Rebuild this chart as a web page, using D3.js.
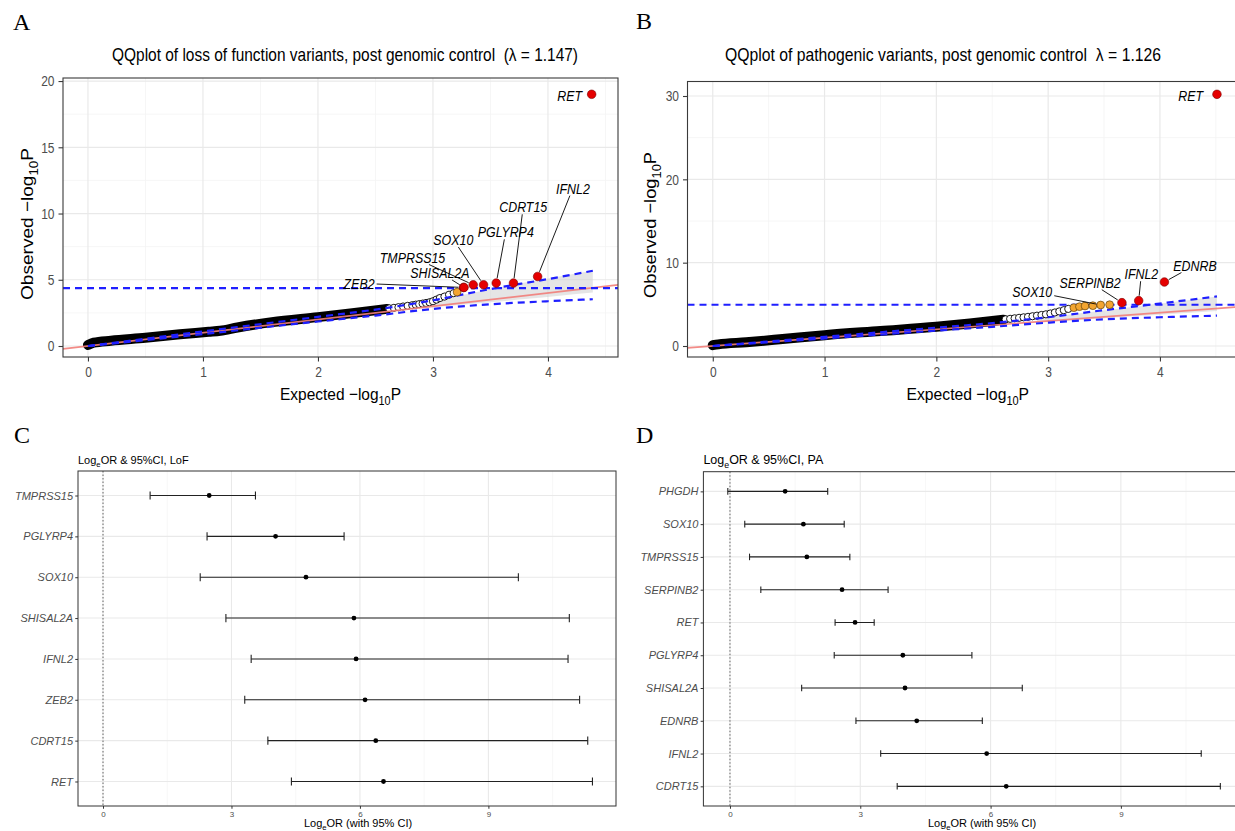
<!DOCTYPE html>
<html>
<head>
<meta charset="utf-8">
<script src="https://cdn.jsdelivr.net/npm/d3@7"></script>
<style>
  body { margin: 0; background: #fff; }
  svg { display: block; }
  text { white-space: pre; }
</style>
</head>
<body>
<svg id="fig" width="1235" height="831"></svg>
<script>
// ---------------- data ----------------
// Panel A: QQ plot, loss-of-function variants
const qqTicksX = [0, 1, 2, 3, 4];
const qqMinorX = [0.5, 1.5, 2.5, 3.5, 4.5];
const lofTicksY = [0, 5, 10, 15, 20];
const lofMinorY = [2.5, 7.5, 12.5, 17.5];

// dense body of the QQ cloud (expected, observed)
const lofBandExp = [0, 0.05, 0.2, 0.5, 0.8, 1.05, 1.15, 1.3, 1.6, 2.0, 2.3, 2.6];
const lofBandObs = [0.08, 0.25, 0.4, 0.62, 0.88, 1.07, 1.15, 1.4, 1.8, 2.18, 2.48, 2.8];
// individually visible tail points
const lofTailExp = [2.62, 2.66, 2.70, 2.74, 2.78, 2.82, 2.85, 2.88, 2.91, 2.94, 2.97, 3.00, 3.03, 3.06, 3.10, 3.14, 3.18];
const lofTailObs = [2.84, 2.88, 2.93, 2.98, 3.03, 3.08, 3.12, 3.16, 3.20, 3.25, 3.30, 3.38, 3.50, 3.62, 3.73, 3.87, 3.99];
const lofSuggExp = [3.21];
const lofSuggObs = [4.07];
const lofSigGenes = ["ZEB2", "SHISAL2A", "TMPRSS15", "SOX10", "PGLYRP4", "CDRT15", "IFNL2", "RET"];
const lofSigExp = [3.265, 3.27, 3.35, 3.44, 3.55, 3.70, 3.91, 4.38];
const lofSigObs = [4.42, 4.42, 4.62, 4.62, 4.75, 4.75, 5.25, 19.0];
// label centres (expected, observed) and whether a leader segment is drawn
const lofLabelExp = [2.358, 3.061, 2.822, 3.177, 3.633, 3.785, 4.217, 4.188];
const lofLabelObs = [4.73, 5.55, 6.72, 8.04, 8.62, 10.51, 11.92, 18.88];
const lofLabelSeg = [true, true, true, true, true, true, true, false];
// confidence envelope
const lofCiExp = [0, 1, 2, 2.5, 3, 3.5, 4, 4.39];
const lofCiUp = [0, 1.1, 2.2, 2.75, 3.45, 4.3, 5.05, 5.68];
const lofCiLo = [0, 0.9, 1.85, 2.3, 2.8, 3.15, 3.38, 3.53];
const lofRibExp = [2.9, 3.2, 3.5, 3.8, 4.1, 4.39];
const lofRibLo = [2.85, 3.08, 3.3, 3.55, 3.8, 4.04];
const lofRibUp = [3.3, 3.75, 4.3, 4.8, 5.25, 5.68];
const lofThreshold = 4.37;

// Panel B: QQ plot, pathogenic variants
const paTicksY = [0, 10, 20, 30];
const paMinorY = [5, 15, 25];
const paBandExp = [0, 0.05, 0.3, 0.6, 1.0, 1.5, 2.0, 2.3, 2.6];
const paBandObs = [0.1, 0.2, 0.45, 0.8, 1.3, 1.8, 2.3, 2.7, 3.15];
const paTailExp = [2.62, 2.66, 2.70, 2.74, 2.78, 2.82, 2.86, 2.90, 2.94, 2.98, 3.02, 3.06, 3.10, 3.14, 3.18];
const paTailObs = [3.20, 3.26, 3.32, 3.38, 3.44, 3.50, 3.57, 3.64, 3.72, 3.80, 3.90, 4.02, 4.15, 4.30, 4.45];
const paSuggExp = [3.23, 3.28, 3.33, 3.40, 3.47, 3.55];
const paSuggObs = [4.60, 4.72, 4.80, 4.84, 4.92, 4.96];
const paSigGenes = ["SERPINB2", "IFNL2", "EDNRB", "RET"];
const paSigExp = [3.66, 3.81, 4.04, 4.51];
const paSigObs = [5.20, 5.44, 7.68, 30.2];
// labelled genes: SOX10 sits among the suggestive points
const paLabelGenes = ["SOX10", "SERPINB2", "IFNL2", "EDNRB", "RET"];
const paLabelPtExp = [3.47, 3.66, 3.81, 4.04, 4.51];
const paLabelPtObs = [4.92, 5.20, 5.44, 7.68, 30.2];
const paLabelExp = [2.858, 3.375, 3.834, 4.314, 4.275];
const paLabelObs = [6.56, 7.66, 8.68, 9.72, 30.12];
const paLabelSeg = [true, true, true, true, false];
const paCiExp = [0, 1, 2, 2.5, 3, 3.5, 4, 4.51];
const paCiUp = [0, 1.1, 2.2, 2.75, 3.45, 4.3, 5.1, 5.95];
const paCiLo = [0, 0.9, 1.85, 2.3, 2.8, 3.2, 3.45, 3.64];
const paRibExp = [2.9, 3.3, 3.7, 4.1, 4.51];
const paRibLo = [2.85, 3.15, 3.5, 3.85, 4.2];
const paRibUp = [3.3, 3.95, 4.6, 5.25, 5.95];
const paThreshold = 4.95;

// Panel C: log odds ratios, LoF
const forestTicksX = [0, 3, 6, 9];
const forestMinorX = [1.5, 4.5, 7.5, 10.5];
const lofGenes = ["TMPRSS15", "PGLYRP4", "SOX10", "SHISAL2A", "IFNL2", "ZEB2", "CDRT15", "RET"];
const lofEst  = [2.48, 4.03, 4.74, 5.86, 5.91, 6.12, 6.37, 6.55];
const lofLow  = [1.10, 2.43, 2.27, 2.87, 3.46, 3.31, 3.85, 4.40];
const lofHigh = [3.56, 5.63, 9.70, 10.89, 10.86, 11.13, 11.32, 11.43];

// Panel D: log odds ratios, pathogenic
const paGenes = ["PHGDH", "SOX10", "TMPRSS15", "SERPINB2", "RET", "PGLYRP4", "SHISAL2A", "EDNRB", "IFNL2", "CDRT15"];
const paEst  = [1.27, 1.69, 1.77, 2.58, 2.88, 3.98, 4.03, 4.30, 5.91, 6.36];
const paLow  = [-0.05, 0.34, 0.45, 0.71, 2.42, 2.40, 1.65, 2.90, 3.47, 3.85];
const paHigh = [2.25, 2.63, 2.76, 3.64, 3.32, 5.57, 6.73, 5.81, 10.85, 11.29];

// ---------------- helpers ----------------
const SANS = "'Liberation Sans', Arial, Helvetica, sans-serif";
const SERIF = "'Liberation Serif', 'Times New Roman', serif";
const svg = d3.select("#fig");

// text built from parts; {t, sub} entries become subscripts
function richText(parent, x, y, parts, o) {
  const t = parent.append("text")
    .attr("xml:space", "preserve")
    .attr("font-family", o.family || SANS)
    .attr("font-size", o.size)
    .attr("font-style", o.italic ? "italic" : null)
    .attr("fill", o.fill || "#000");
  let prevSub = false;
  parts.forEach(p => {
    const s = t.append("tspan").text(p.t);
    if (p.sub) { s.attr("font-size", o.size * 0.7).attr("dy", o.size * 0.28); prevSub = true; }
    else if (prevSub) { s.attr("dy", -o.size * 0.28); prevSub = false; }
  });
  const nat = t.node().getComputedTextLength();
  const L = o.len || nat * (o.factor || 1);
  if (Math.abs(L - nat) > 0.1) t.attr("textLength", L).attr("lengthAdjust", "spacingAndGlyphs");
  const shift = o.anchor === "middle" ? -L / 2 : o.anchor === "end" ? -L : 0;
  if (o.rotate) {
    t.attr("transform", `translate(${x},${y}) rotate(-90)`).attr("x", shift).attr("y", 0);
  } else {
    t.attr("x", x + shift).attr("y", y);
  }
  return L;
}

// narrow the tick labels produced by a d3 axis
function condenseTicks(axisG, factor, side, offset) {
  axisG.selectAll(".tick text").each(function () {
    const n = this.getComputedTextLength();
    const L = n * factor;
    this.setAttribute("textLength", L);
    this.setAttribute("lengthAdjust", "spacingAndGlyphs");
    this.setAttribute("text-anchor", "start");
    if (side === "left") this.setAttribute("x", -offset - L);
    else this.setAttribute("x", -L / 2);
  });
}

function panelLabel(letter, x, y) {
  svg.append("text").attr("x", x).attr("y", y)
    .attr("font-family", SERIF).attr("font-size", 24).attr("fill", "#000")
    .text(letter);
}

// ---------------- QQ panel ----------------
function qqPanel(c) {
  const x = d3.scaleLinear().domain(c.xDom).range([c.box.l, c.box.r]);
  const y = d3.scaleLinear().domain(c.yDom).range([c.box.b, c.box.t]);
  const g = svg.append("g");
  const clip = "clip-" + c.id;
  g.append("clipPath").attr("id", clip).append("rect")
    .attr("x", c.box.l).attr("y", c.box.t)
    .attr("width", c.box.r - c.box.l).attr("height", c.box.b - c.box.t);
  const p = g.append("g").attr("clip-path", `url(#${clip})`);

  // grid
  p.selectAll(".gmx").data(qqMinorX).join("line")
    .attr("x1", d => x(d)).attr("x2", d => x(d)).attr("y1", c.box.t).attr("y2", c.box.b)
    .attr("stroke", "#f4f4f4").attr("stroke-width", 0.8);
  p.selectAll(".gmy").data(c.yMinor).join("line")
    .attr("y1", d => y(d)).attr("y2", d => y(d)).attr("x1", c.box.l).attr("x2", c.box.r)
    .attr("stroke", "#f4f4f4").attr("stroke-width", 0.8);
  p.selectAll(".gx").data(qqTicksX).join("line")
    .attr("x1", d => x(d)).attr("x2", d => x(d)).attr("y1", c.box.t).attr("y2", c.box.b)
    .attr("stroke", "#e9e9e9").attr("stroke-width", 1.2);
  p.selectAll(".gy").data(c.yTicks).join("line")
    .attr("y1", d => y(d)).attr("y2", d => y(d)).attr("x1", c.box.l).attr("x2", c.box.r)
    .attr("stroke", "#e9e9e9").attr("stroke-width", 1.2);

  // shaded envelope
  const rib = c.ribExp.map((e, i) => [e, c.ribLo[i], c.ribUp[i]]);
  p.append("path").datum(rib)
    .attr("d", d3.area().x(d => x(d[0])).y0(d => y(d[1])).y1(d => y(d[2])).curve(d3.curveMonotoneX))
    .attr("fill", "#cfcfcf").attr("opacity", 0.55);

  // dense body of points
  const band = c.bandExp.map((e, i) => [e, c.bandObs[i]]);
  p.append("path").datum(band)
    .attr("d", d3.line().x(d => x(d[0])).y(d => y(d[1])).curve(d3.curveMonotoneX))
    .attr("fill", "none").attr("stroke", "#000").attr("stroke-width", 10)
    .attr("stroke-linecap", "round").attr("stroke-linejoin", "round");

  // tail points
  const tail = c.tailExp.map((e, i) => [e, c.tailObs[i]]);
  p.selectAll(".tail").data(tail).join("circle")
    .attr("cx", d => x(d[0])).attr("cy", d => y(d[1])).attr("r", 3.6)
    .attr("fill", "#fff").attr("stroke", "#000").attr("stroke-width", 0.9);

  // identity line
  p.append("line")
    .attr("x1", x(c.xDom[0])).attr("y1", y(c.xDom[0]))
    .attr("x2", x(c.xDom[1])).attr("y2", y(c.xDom[1]))
    .attr("stroke", "#f27f7a").attr("stroke-width", 1.7).attr("opacity", 0.9);

  // dashed confidence bounds and significance threshold
  const dashed = { stroke: "#1f1fff", w: 2.2, dash: "7 5" };
  [c.ciUp, c.ciLo].forEach(arr => {
    const pts = c.ciExp.map((e, i) => [e, arr[i]]);
    p.append("path").datum(pts)
      .attr("d", d3.line().x(d => x(d[0])).y(d => y(d[1])).curve(d3.curveMonotoneX))
      .attr("fill", "none").attr("stroke", dashed.stroke).attr("stroke-width", dashed.w)
      .attr("stroke-dasharray", dashed.dash);
  });
  p.append("line")
    .attr("x1", c.box.l).attr("x2", c.box.r)
    .attr("y1", y(c.threshold)).attr("y2", y(c.threshold))
    .attr("stroke", dashed.stroke).attr("stroke-width", dashed.w).attr("stroke-dasharray", dashed.dash);

  // suggestive and significant points
  const sugg = c.suggExp.map((e, i) => [e, c.suggObs[i]]);
  p.selectAll(".sugg").data(sugg).join("circle")
    .attr("cx", d => x(d[0])).attr("cy", d => y(d[1])).attr("r", 3.9)
    .attr("fill", "#f3a530").attr("stroke", "#4a3000").attr("stroke-width", 0.6);
  const sig = c.sigExp.map((e, i) => [e, c.sigObs[i]]);
  p.selectAll(".sig").data(sig).join("circle")
    .attr("cx", d => x(d[0])).attr("cy", d => y(d[1])).attr("r", 4.3)
    .attr("fill", "#e50000").attr("stroke", "#7a0000").attr("stroke-width", 0.6);

  // gene labels with leader segments
  const lab = g.append("g");
  const fs = 15.5, capH = fs * 0.716;
  c.labels.forEach(l => {
    const cx = x(l.lx), cy = y(l.ly);
    const L = richText(lab, cx, cy + capH / 2, [{ t: l.gene }],
      { size: fs, italic: true, factor: 0.8, anchor: "middle" });
    if (!l.seg) return;
    const px = x(l.px), py = y(l.py);
    const dx = px - cx, dy = py - cy, dist = Math.hypot(dx, dy);
    const hw = L / 2 + 2, hh = capH / 2 + 2;
    const tb = Math.min(Math.abs(dx) > 1e-6 ? hw / Math.abs(dx) : Infinity,
                        Math.abs(dy) > 1e-6 ? hh / Math.abs(dy) : Infinity);
    const te = 1 - 5 / dist;
    if (te <= tb) return;
    lab.append("line")
      .attr("x1", cx + dx * tb).attr("y1", cy + dy * tb)
      .attr("x2", cx + dx * te).attr("y2", cy + dy * te)
      .attr("stroke", "#000").attr("stroke-width", 0.9);
  });

  // border
  g.append("rect")
    .attr("x", c.box.l).attr("y", c.box.t)
    .attr("width", c.box.r - c.box.l).attr("height", c.box.b - c.box.t)
    .attr("fill", "none").attr("stroke", "#3a3a3a").attr("stroke-width", 1.1);

  // axes
  const ax = g.append("g").attr("transform", `translate(0,${c.box.b})`)
    .call(d3.axisBottom(x).tickValues(qqTicksX).tickFormat(d3.format("d")).tickSize(4.5).tickPadding(5));
  const ay = g.append("g").attr("transform", `translate(${c.box.l},0)`)
    .call(d3.axisLeft(y).tickValues(c.yTicks).tickFormat(d3.format("d")).tickSize(4.5).tickPadding(4));
  [ax, ay].forEach(a => {
    a.select(".domain").remove();
    a.selectAll(".tick line").attr("stroke", "#3a3a3a").attr("stroke-width", 1.1);
    a.selectAll(".tick text").attr("font-family", SANS).attr("font-size", 15).attr("fill", "#4d4d4d");
  });
  condenseTicks(ax, 0.8, "bottom", 0);
  condenseTicks(ay, 0.8, "left", 8.5);

  // titles
  richText(g, c.title.x, c.title.y, [{ t: c.title.text }], { size: 19, len: c.title.len });
  richText(g, c.xTitle.x, c.xTitle.y,
    [{ t: "Expected \u2212log" }, { t: "10", sub: true }, { t: "P" }],
    { size: 17, len: c.xTitle.len, anchor: "middle" });
  richText(g, c.yTitle.x, c.yTitle.y,
    [{ t: "Observed \u2212log" }, { t: "10", sub: true }, { t: "P" }],
    { size: 17, len: c.yTitle.len, anchor: "middle", rotate: true });
}

// ---------------- forest panel ----------------
function forestPanel(c) {
  const x = d3.scaleLinear().domain(c.xDom).range([c.box.l, c.box.r]);
  const y = d3.scalePoint().domain(c.genes).range([c.box.t, c.box.b]).padding(0.6);
  const g = svg.append("g");

  g.selectAll(".mx").data(forestMinorX).join("line")
    .attr("x1", d => x(d)).attr("x2", d => x(d)).attr("y1", c.box.t).attr("y2", c.box.b)
    .attr("stroke", "#f3f3f3").attr("stroke-width", 0.7);
  g.selectAll(".gx").data(forestTicksX).join("line")
    .attr("x1", d => x(d)).attr("x2", d => x(d)).attr("y1", c.box.t).attr("y2", c.box.b)
    .attr("stroke", "#e9e9e9").attr("stroke-width", 1.1);
  g.selectAll(".gy").data(c.genes).join("line")
    .attr("y1", d => y(d)).attr("y2", d => y(d)).attr("x1", c.box.l).attr("x2", c.box.r)
    .attr("stroke", "#e9e9e9").attr("stroke-width", 1.1);

  // reference line at zero
  g.append("line").attr("x1", x(0)).attr("x2", x(0)).attr("y1", c.box.t).attr("y2", c.box.b)
    .attr("stroke", "#666").attr("stroke-width", 1).attr("stroke-dasharray", "1.5 2");

  const rows = c.genes.map((gene, i) => ({ gene, est: c.est[i], lo: c.lo[i], hi: c.hi[i] }));
  const capH = y.step() * 0.1;
  const bars = g.selectAll(".row").data(rows).join("g");
  bars.append("line")
    .attr("x1", d => x(d.lo)).attr("x2", d => x(d.hi))
    .attr("y1", d => y(d.gene)).attr("y2", d => y(d.gene))
    .attr("stroke", "#222").attr("stroke-width", 1.1);
  bars.append("line")
    .attr("x1", d => x(d.lo)).attr("x2", d => x(d.lo))
    .attr("y1", d => y(d.gene) - capH).attr("y2", d => y(d.gene) + capH)
    .attr("stroke", "#222").attr("stroke-width", 1.1);
  bars.append("line")
    .attr("x1", d => x(d.hi)).attr("x2", d => x(d.hi))
    .attr("y1", d => y(d.gene) - capH).attr("y2", d => y(d.gene) + capH)
    .attr("stroke", "#222").attr("stroke-width", 1.1);
  bars.append("circle")
    .attr("cx", d => x(d.est)).attr("cy", d => y(d.gene)).attr("r", 2.4).attr("fill", "#000");

  g.append("rect")
    .attr("x", c.box.l).attr("y", c.box.t)
    .attr("width", c.box.r - c.box.l).attr("height", c.box.b - c.box.t)
    .attr("fill", "none").attr("stroke", "#333").attr("stroke-width", 1);

  const ax = g.append("g").attr("transform", `translate(0,${c.box.b})`)
    .call(d3.axisBottom(x).tickValues(forestTicksX).tickFormat(d3.format("d")).tickSize(2.75).tickPadding(2.5));
  const ay = g.append("g").attr("transform", `translate(${c.box.l},0)`)
    .call(d3.axisLeft(y).tickSize(2.75).tickPadding(2.2));
  [ax, ay].forEach(a => {
    a.select(".domain").remove();
    a.selectAll(".tick line").attr("stroke", "#333");
  });
  ax.selectAll(".tick text").attr("font-family", SANS).attr("font-size", 8).attr("fill", "#4d4d4d");
  ay.selectAll(".tick text").attr("font-family", SANS).attr("font-size", c.labelSize)
    .attr("font-style", "italic").attr("fill", "#4d4d4d");

  richText(g, c.box.l, c.titleY,
    [{ t: "Log" }, { t: "e", sub: true }, { t: "OR & 95%CI, " + c.tag }],
    { size: c.titleSize });
  richText(g, c.xTitleX, 827,
    [{ t: "Log" }, { t: "e", sub: true }, { t: "OR (with 95% CI)" }],
    { size: 11, anchor: "middle" });
}

// ---------------- layout ----------------
panelLabel("A", 13, 30);
panelLabel("B", 636, 29);
panelLabel("C", 14, 443);
panelLabel("D", 636, 443);

qqPanel({
  id: "A",
  box: { l: 63, r: 618, t: 78, b: 357 },
  xDom: [-0.217, 4.609], yDom: [-0.83, 20.23],
  yTicks: lofTicksY, yMinor: lofMinorY,
  bandExp: lofBandExp, bandObs: lofBandObs,
  tailExp: lofTailExp, tailObs: lofTailObs,
  suggExp: lofSuggExp, suggObs: lofSuggObs,
  sigExp: lofSigExp, sigObs: lofSigObs,
  labels: lofSigGenes.map((gene, i) => ({
    gene, px: lofSigExp[i], py: lofSigObs[i],
    lx: lofLabelExp[i], ly: lofLabelObs[i], seg: lofLabelSeg[i]
  })),
  ciExp: lofCiExp, ciUp: lofCiUp, ciLo: lofCiLo,
  ribExp: lofRibExp, ribLo: lofRibLo, ribUp: lofRibUp,
  threshold: lofThreshold,
  title: { text: "QQplot of loss of function variants, post genomic control  (\u03bb = 1.147)", x: 112, y: 61, len: 466 },
  xTitle: { x: 340.5, y: 400, len: 121 },
  yTitle: { x: 33, y: 224, len: 152 }
});

qqPanel({
  id: "B",
  box: { l: 687.5, r: 1243, t: 81.5, b: 357 },
  xDom: [-0.226, 4.743], yDom: [-1.32, 31.74],
  yTicks: paTicksY, yMinor: paMinorY,
  bandExp: paBandExp, bandObs: paBandObs,
  tailExp: paTailExp, tailObs: paTailObs,
  suggExp: paSuggExp, suggObs: paSuggObs,
  sigExp: paSigExp, sigObs: paSigObs,
  labels: paLabelGenes.map((gene, i) => ({
    gene, px: paLabelPtExp[i], py: paLabelPtObs[i],
    lx: paLabelExp[i], ly: paLabelObs[i], seg: paLabelSeg[i]
  })),
  ciExp: paCiExp, ciUp: paCiUp, ciLo: paCiLo,
  ribExp: paRibExp, ribLo: paRibLo, ribUp: paRibUp,
  threshold: paThreshold,
  title: { text: "QQplot of pathogenic variants, post genomic control  \u03bb = 1.126", x: 725, y: 61, len: 436 },
  xTitle: { x: 967.8, y: 400, len: 122.5 },
  yTitle: { x: 656, y: 225, len: 146 }
});

forestPanel({
  box: { l: 78, r: 616, t: 471, b: 806 },
  xDom: [-0.584, 11.98],
  genes: lofGenes, est: lofEst, lo: lofLow, hi: lofHigh,
  tag: "LoF", titleSize: 11, titleY: 464, labelSize: 11, xTitleX: 358
});

forestPanel({
  box: { l: 703.4, r: 1246.4, t: 471.7, b: 806 },
  xDom: [-0.612, 11.89],
  genes: paGenes, est: paEst, lo: paLow, hi: paHigh,
  tag: "PA", titleSize: 12.5, titleY: 464, labelSize: 11, xTitleX: 982
});
</script>
</body>
</html>
